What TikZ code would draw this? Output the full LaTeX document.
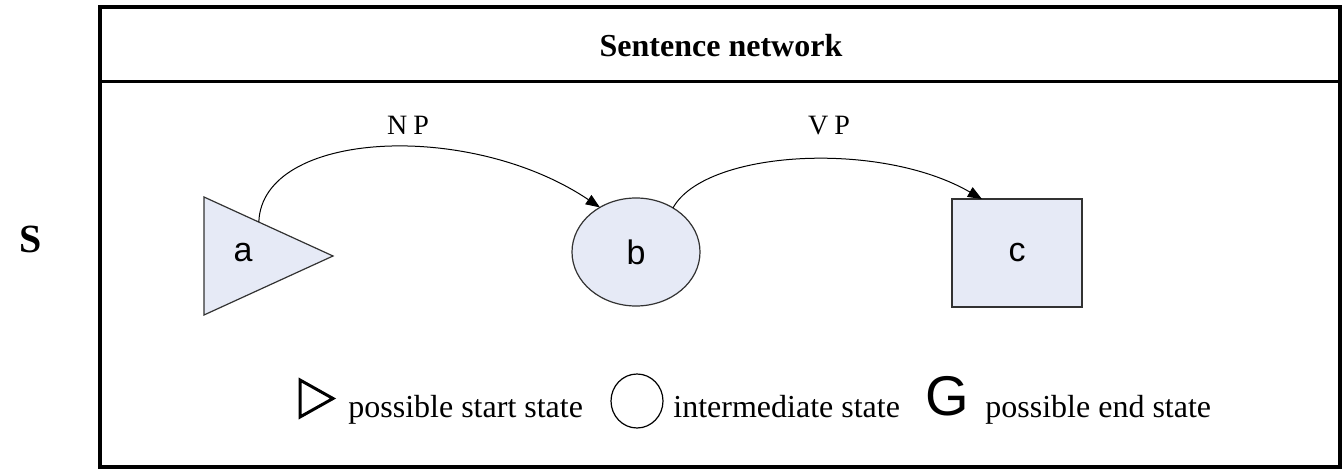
\documentclass[tikz,border=0pt]{standalone}
\usepackage{fontspec}
\setmainfont{Liberation Serif}
\newfontfamily\arialfam{Liberation Sans}
\usetikzlibrary{shapes.geometric,arrows.meta,calc}
\definecolor{statefill}{RGB}{230,234,246}
\definecolor{stateline}{RGB}{50,50,50}
\begin{document}
\begin{tikzpicture}[x=0.5pt,y=-0.5pt,
  state/.style={fill=statefill, draw=stateline, line width=0.6pt, inner sep=0pt, outer sep=0pt},
  starttri/.style={state, isosceles triangle, isosceles triangle stretches,
    shape border rotate=0, minimum width=59pt, minimum height=64.5pt},
  midstate/.style={state, ellipse, minimum width=64pt, minimum height=54pt},
  endstate/.style={state, rectangle, minimum width=65pt, minimum height=54pt},
  statelabel/.style={font=\arialfam\fontsize{17}{20}\selectfont, inner sep=0pt},
  arc/.style={line width=0.5pt, -{Triangle[length=7pt,width=5.5pt]}},
  arclabel/.style={font=\fontsize{14}{17}\selectfont, anchor=base, inner sep=0pt},
  legendtext/.style={font=\fontsize{16}{19}\selectfont, anchor=base west, inner sep=0pt}]
\useasboundingbox (0,0) rectangle (1343,470);

% frame with title bar
\draw[line width=1.75pt] (100,7) rectangle (1340,467);
\draw[line width=1.5pt] (100,82) -- (1340,82);
\node[font=\bfseries\fontsize{16}{19}\selectfont, anchor=base, inner sep=0pt] (title) at (721,57) {Sentence network};
\node[font=\bfseries\fontsize{20}{24}\selectfont, anchor=base, inner sep=0pt] (S) at (31,253) {S};

% states
\node[starttri, anchor=apex] (a) at (333,256) {};
\node[statelabel, anchor=base] (alab) at (243,262) {a};
\node[midstate] (b) at (636,252) {\arialfam\fontsize{17}{20}\selectfont b};
\node[endstate] (c) at (1017,253) {\arialfam\fontsize{17}{20}\selectfont c};

% transitions
\coordinate (npstart) at ($(a.left side)!0.15!(a.left corner)$);
\coordinate (vpend) at ($(c.north west)!0.23!(c.north east)$);
\draw[arc] (npstart) .. controls (262,130) and (470,120) .. (b.129);
\node[arclabel] (np) at (408,135) {N\hspace{3pt}P};
\draw[arc] (b.50) .. controls (705,150) and (880,140) .. (vpend);
\node[arclabel] (vp) at (829,135) {V\hspace{3pt}P};

% legend
\draw[line width=1.5pt, miter limit=10] (300,380) -- (333,398.5) -- (300,417) -- cycle;
\node[legendtext] (lg1) at (348,417) {possible start state};
\draw[line width=0.6pt] (637,401) ellipse [x radius=13pt, y radius=13.5pt];
\node[legendtext] (lg2) at (673,417) {intermediate state};
\node[font=\arialfam\fontsize{28}{32}\selectfont, anchor=base west, inner sep=0pt] (lgG) at (925,415) {G};
\node[legendtext] (lg3) at (985,417) {possible end state};
\end{tikzpicture}
\end{document}
